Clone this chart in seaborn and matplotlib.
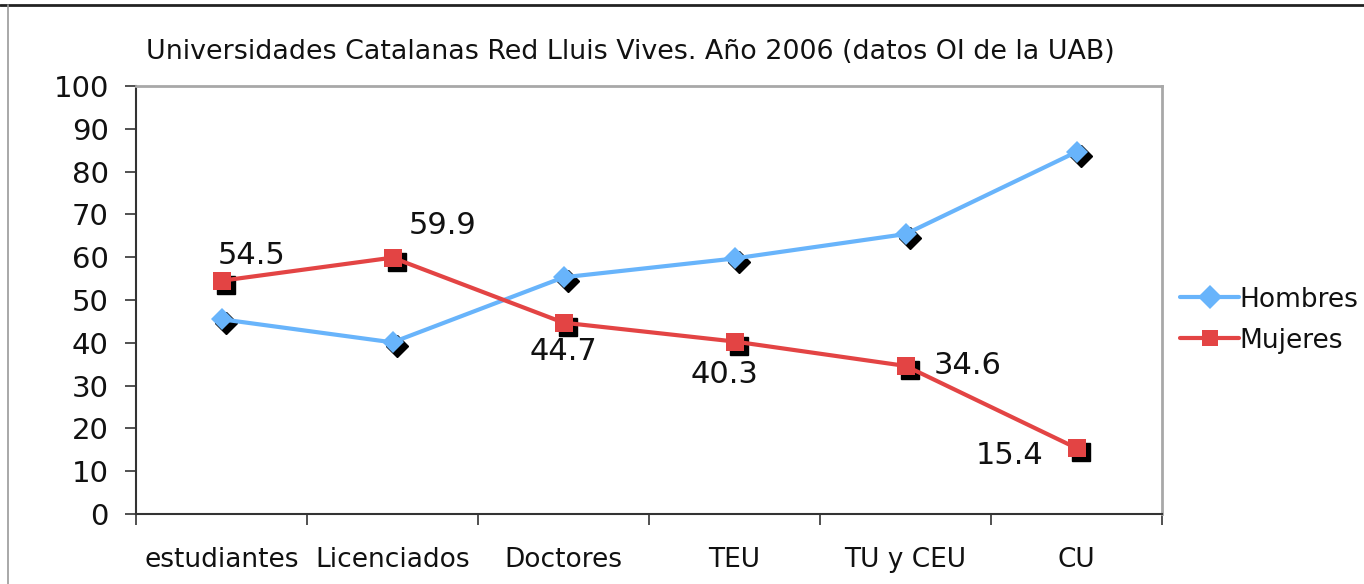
import matplotlib
matplotlib.use("Agg")
import matplotlib.pyplot as plt
import matplotlib.transforms as mtransforms
import seaborn as sns
import pandas as pd
import numpy as np

categories = ["estudiantes", "Licenciados", "Doctores", "TEU", "TU y CEU", "CU"]
hombres = [45.5, 40.1, 55.3, 59.7, 65.4, 84.6]
mujeres = [54.5, 59.9, 44.7, 40.3, 34.6, 15.4]
label_offsets = [(-3, 18), (12, 23), (0, -21), (-7, -24), (20, 0), (-24, -5)]
label_ha = ["left", "left", "center", "center", "left", "right"]

sns.set_theme(style="white")
plt.rcParams['font.family'] = ['DejaVu Sans']

BLUE = "#68b4fb"
RED = "#e34444"
TXT = "#111111"

fig = plt.figure(figsize=(13.64, 5.84), dpi=100)
ax = fig.add_axes([136/1364, 1-514/584, (1162-136)/1364, (514-86)/584])

x = np.arange(len(categories))
df = pd.DataFrame({"x": np.concatenate([x, x]),
                   "val": hombres + mujeres,
                   "serie": ["Hombres"]*6 + ["Mujeres"]*6})

shadow = ax.transData + mtransforms.ScaledTranslation(4/100, -4/100, fig.dpi_scale_trans)
ax.plot(x, hombres, linestyle="none", marker="D", markersize=11, color="black", transform=shadow, zorder=2)
ax.plot(x, mujeres, linestyle="none", marker="s", markersize=13, color="black", transform=shadow, zorder=2)

sns.lineplot(data=df, x="x", y="val", hue="serie", style="serie",
             palette={"Hombres": BLUE, "Mujeres": RED},
             markers={"Hombres": "D", "Mujeres": "s"}, dashes=False,
             markersize=12, linewidth=3, markeredgewidth=0, ax=ax, zorder=3)
lines = ax.get_lines()
lines[2].set_markersize(11)
lines[3].set_markersize(13)

for i, v in enumerate(mujeres):
    ax.annotate(f"{v}", (x[i], v), xytext=label_offsets[i], textcoords="offset points",
                ha=label_ha[i], va="center", fontsize=22, color=TXT, zorder=5)

ax.set_xlim(-0.5, 5.5)
ax.set_ylim(0, 100)
ax.set_yticks(range(0, 101, 10))
ax.set_xticks(np.arange(-0.5, 6, 1))
ax.set_xticklabels([])
ax.set_xticks(x, minor=True)
ax.set_xticklabels(categories, minor=True)
ax.tick_params(axis="x", which="minor", length=0, pad=24, labelsize=19, labelcolor=TXT)
ax.tick_params(axis="x", which="major", direction="out", length=8, width=1.2, color="#333333", bottom=True)
ax.tick_params(axis="y", direction="out", length=8, width=1.2, color="#333333", labelsize=21,
               pad=11.5, left=True, labelcolor=TXT)
ax.set_xlabel("")
ax.set_ylabel("")

for s in ["left", "bottom"]:
    ax.spines[s].set_color("#333333")
    ax.spines[s].set_linewidth(1.5)
for s in ["top", "right"]:
    ax.spines[s].set_color("#a8a8a8")
    ax.spines[s].set_linewidth(2)

leg = ax.legend(loc="center left", bbox_to_anchor=(1.0, 0.453), frameon=False,
                fontsize=19, handlelength=2.2, handletextpad=0.05, labelspacing=0.57,
                borderaxespad=0.3)
for t in leg.get_texts():
    t.set_color(TXT)
for h in leg.legend_handles:
    h.set_linewidth(3)

fig.text(630/1364, 1-52/584, "Universidades Catalanas Red Lluis Vives. Año 2006 (datos OI de la UAB)",
         ha="center", va="center", fontsize=19.4, color=TXT)

# figure frame lines
fig.add_artist(plt.Line2D([0, 1], [1-5/584, 1-5/584], color="#222222", linewidth=2, transform=fig.transFigure))
fig.add_artist(plt.Line2D([8/1364, 8/1364], [0, 1-5/584], color="#999999", linewidth=1.2, transform=fig.transFigure))

fig.savefig("out.png", dpi=100)
